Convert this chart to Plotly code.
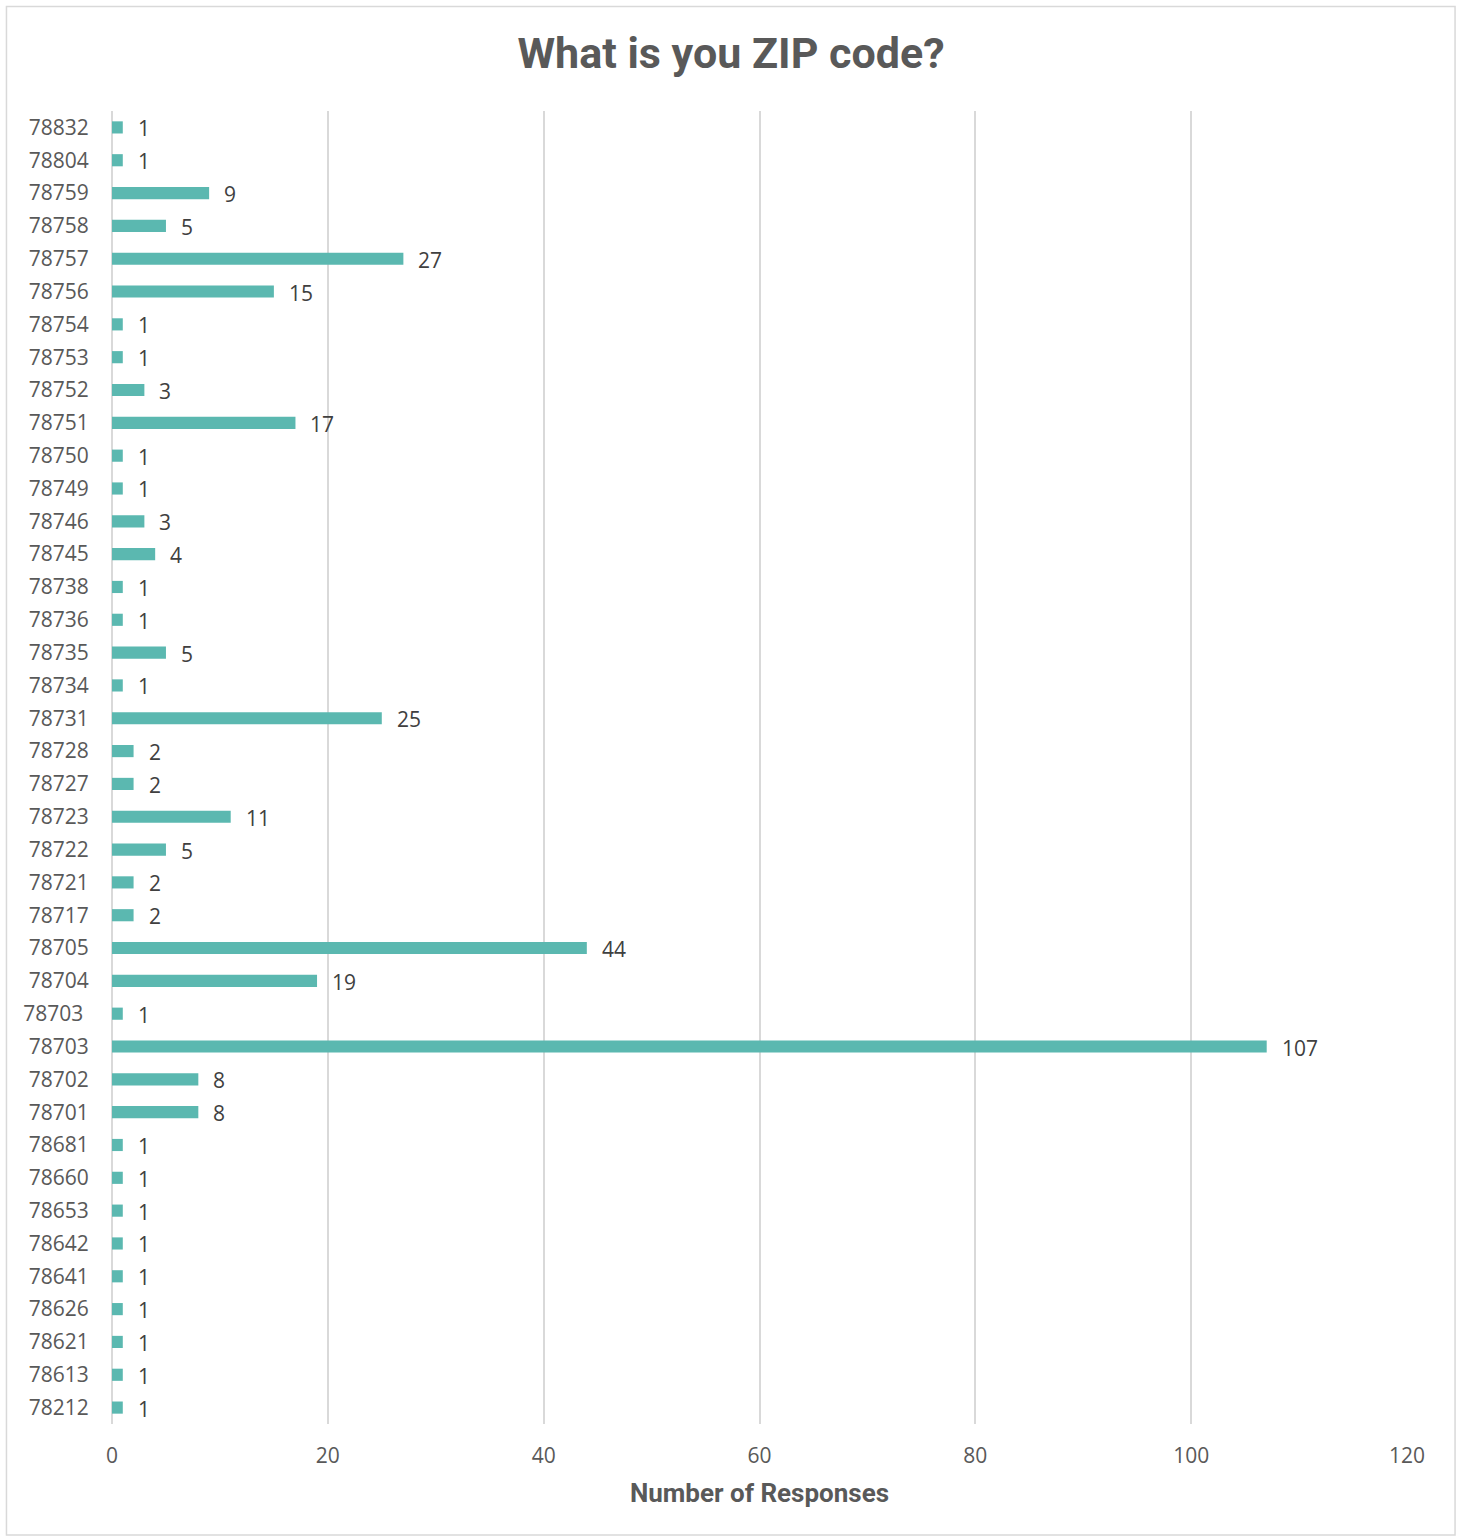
import plotly.graph_objects as go

# ZIP codes listed top to bottom as shown on the chart
zip_codes = [
    "78832", "78804", "78759", "78758", "78757", "78756", "78754", "78753",
    "78752", "78751", "78750", "78749", "78746", "78745", "78738", "78736",
    "78735", "78734", "78731", "78728", "78727", "78723", "78722", "78721",
    "78717", "78705", "78704", "78703\u00a0", "78703", "78702", "78701",
    "78681", "78660", "78653", "78642", "78641", "78626", "78621", "78613",
    "78212",
]
responses = [
    1, 1, 9, 5, 27, 15, 1, 1,
    3, 17, 1, 1, 3, 4, 1, 1,
    5, 1, 25, 2, 2, 11, 5, 2,
    2, 44, 19, 1, 107, 8, 8,
    1, 1, 1, 1, 1, 1, 1, 1,
    1,
]
x_ticks = [0, 20, 40, 60, 80, 100, 120]

BAR = "#5BB8B0"
GRID = "#D9D9D9"
TEXT = "#595959"
LABEL_FONT = "Open Sans"

n = len(zip_codes)

fig = go.Figure(
    go.Bar(
        x=responses,
        y=zip_codes,
        orientation="h",
        width=0.37,
        marker=dict(color=BAR, line=dict(width=0)),
        hoverinfo="x+y",
    )
)

# value labels just past each bar's end (y given as category index)
for i, v in enumerate(responses):
    fig.add_annotation(
        x=v, y=i, text=str(v), showarrow=False,
        xanchor="left", yanchor="middle", xshift=13, yshift=-1,
        font=dict(family=LABEL_FONT, size=21, color="#404040"),
    )

# light frame around the whole chart
fig.add_shape(
    type="rect", xref="paper", yref="paper",
    x0=-0.0815, x1=1.0371, y0=-0.0845, y1=1.0796,
    line=dict(color=GRID, width=1.5), fillcolor="rgba(0,0,0,0)", layer="below",
)

fig.update_layout(
    width=1462, height=1537,
    margin=dict(l=112, r=55, t=111, b=113),
    paper_bgcolor="white", plot_bgcolor="white",
    showlegend=False,
    title=dict(
        text="<b>What is you ZIP code?</b>",
        x=0.5, xref="container", xanchor="center",
        y=1 - 53 / 1537, yref="container", yanchor="middle",
        font=dict(family="Roboto", size=43, color=TEXT),
    ),
    xaxis=dict(
        range=[0, 120], tickvals=x_ticks, ticktext=[str(t) for t in x_ticks],
        showgrid=True, gridcolor=GRID, gridwidth=2,
        zeroline=True, zerolinecolor=GRID, zerolinewidth=2,
        showline=False, ticks="outside", ticklen=13,
        tickcolor="rgba(0,0,0,0)",
        tickfont=dict(family=LABEL_FONT, size=21, color=TEXT),
        title=dict(
            text="<b>Number of Responses</b>", standoff=15,
            font=dict(family="Roboto", size=26, color=TEXT),
        ),
    ),
    yaxis=dict(
        type="category",
        categoryorder="array", categoryarray=zip_codes,
        range=[n - 0.5, -0.5], autorange=False,
        showgrid=False, showline=False, zeroline=False, ticks="outside",
        ticklen=18, tickcolor="rgba(0,0,0,0)",
        tickfont=dict(family=LABEL_FONT, size=21, color=TEXT),
    ),
)

fig.write_html("out.html")
